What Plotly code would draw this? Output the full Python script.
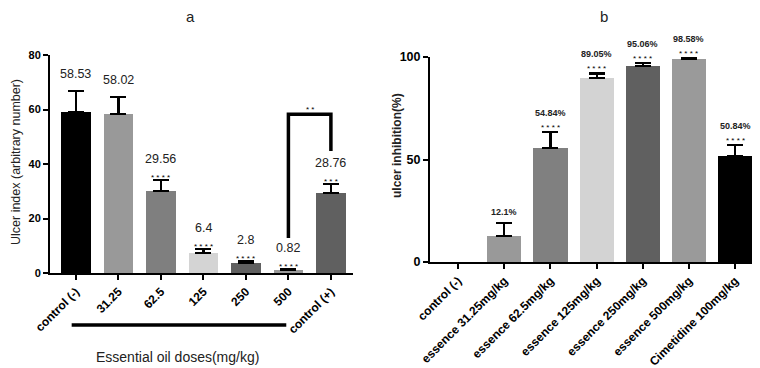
import plotly.graph_objects as go

# ---------------- data: panel a ----------------
cats_a = ["control (-)", "31.25", "62.5", "125", "250", "500", "control (+)"]
vals_a = [59.0, 58.4, 30.1, 7.3, 3.7, 1.1, 29.4]
errtop_a = [66.8, 64.6, 34.1, 8.8, 4.4, 1.6, 32.6]
labels_a = ["58.53", "58.02", "29.56", "6.4", "2.8", "0.82", "28.76"]
stars_a = ["", "", "****", "****", "****", "****", "***"]
colors_a = ["#000000", "#999999", "#7f7f7f", "#d4d4d4", "#606060", "#9a9a9a", "#606060"]
bracket_x = ["500", "500", "control (+)", "control (+)"]
bracket_y = [12.8, 58.3, 58.3, 44.8]
bracket_label = "**"

# ---------------- data: panel b ----------------
cats_b = ["control (-)", "essence 31.25mg/kg", "essence 62.5mg/kg", "essence 125mg/kg",
          "essence 250mg/kg", "essence 500mg/kg", "Cimetidine 100mg/kg"]
vals_b = [0.0, 12.7, 55.6, 89.8, 95.6, 99.0, 51.7]
errtop_b = [None, 19.0, 63.4, 92.0, 97.0, 99.3, 57.0]
labels_b = ["", "12.1%", "54.84%", "89.05%", "95.06%", "98.58%", "50.84%"]
stars_b = ["", "", "****", "****", "****", "****", "****"]
colors_b = ["#000000", "#999999", "#808080", "#d3d3d3", "#606060", "#9a9a9a", "#000000"]

# page has an 8px body margin; figure is sized so that it fills the 760x368 window
OFF = 8
W, H = 760 - OFF, 368 - OFF
def px(x):
    return (x - OFF) / W
def py(y):
    return 1 - (y - OFF) / H

FONT = "Liberation Sans, Arial, sans-serif"

def up_err(tops, vals):
    return [None if t is None else t - v for t, v in zip(tops, vals)]

fig = go.Figure()

fig.add_trace(go.Bar(
    x=cats_a, y=vals_a, marker=dict(color=colors_a, line=dict(width=0)), width=0.7,
    error_y=dict(type="data", symmetric=False, array=up_err(errtop_a, vals_a),
                 arrayminus=[0] * len(vals_a), color="black", thickness=2.2, width=8),
    xaxis="x", yaxis="y", showlegend=False, hoverinfo="skip"))

fig.add_trace(go.Scatter(
    x=bracket_x, y=bracket_y, mode="lines", line=dict(color="black", width=3.5),
    xaxis="x", yaxis="y", showlegend=False, cliponaxis=False, hoverinfo="skip"))

# a zero-height bar with no error bar draws nothing in the reference
fig.add_trace(go.Bar(
    x=cats_b, y=[v if v else None for v in vals_b],
    marker=dict(color=colors_b, line=dict(width=0)), width=0.74,
    error_y=dict(type="data", symmetric=False, array=up_err(errtop_b, vals_b),
                 arrayminus=[None if t is None else 0 for t in errtop_b],
                 color="black", thickness=2.2, width=8),
    xaxis="x2", yaxis="y2", showlegend=False, hoverinfo="skip"))

ann = []
def spaced(s):
    return " ".join(list(s)) if set(s) == {"*"} else s

for i, (c, t, lab, st) in enumerate(zip(cats_a, errtop_a, labels_a, stars_a)):
    if st:
        ann.append(dict(x=i, y=t, xref="x", yref="y", text=spaced(st), showarrow=False,
                        yanchor="bottom", yshift=-4, font=dict(family=FONT, size=8, color="black")))
    ann.append(dict(x=i, y=t, xref="x", yref="y", text=lab, showarrow=False,
                    yanchor="bottom", yshift=12 if st else 8,
                    font=dict(family=FONT, size=12.5, color="#222")))
ann.append(dict(x=5.5, y=bracket_y[1], xref="x", yref="y", text=spaced(bracket_label),
                showarrow=False, yanchor="bottom", yshift=-2,
                font=dict(family=FONT, size=8, color="black")))

for i, (c, t, lab, st) in enumerate(zip(cats_b, errtop_b, labels_b, stars_b)):
    if t is None:
        continue
    if st:
        ann.append(dict(x=i, y=t, xref="x2", yref="y2", text=spaced(st), showarrow=False,
                        yanchor="bottom", yshift=-2, font=dict(family=FONT, size=8, color="black")))
    if lab:
        ann.append(dict(x=i, y=t, xref="x2", yref="y2", text="<b>" + lab + "</b>", showarrow=False,
                        yanchor="bottom", yshift=12 if st else 4,
                        font=dict(family=FONT, size=9, color="#222")))

def pann(x, y, text, size, angle=0):
    return dict(x=px(x), y=py(y), xref="paper", yref="paper", text=text, showarrow=False,
                xanchor="center", yanchor="middle", textangle=angle,
                font=dict(family=FONT, size=size, color="#222"))

ann += [
    pann(190, 16, "a", 15),
    pann(604, 16, "b", 15),
    pann(16, 162, "Ulcer index (arbitrary number)", 12.5, -90),
    pann(397, 146, "<b>ulcer inhibition(%)</b>", 12, -90),
    pann(177, 357, "Essential oil doses(mg/kg)", 14),
]

shapes = [dict(type="line", xref="x", yref="paper", x0=-0.1, x1=4.95,
               y0=py(325), y1=py(325), line=dict(color="black", width=3.5))]

axis_common = dict(showline=True, linecolor="black", linewidth=2, ticks="outside",
                   ticklen=5, tickwidth=2, tickcolor="black", showgrid=False, zeroline=False,
                   automargin=False)

fig.update_layout(
    width=W, height=H, margin=dict(l=0, r=0, t=0, b=0, autoexpand=False),
    plot_bgcolor="white", paper_bgcolor="white",
    xaxis=dict(domain=[px(50), px(353)], range=[-0.61, 6.52], anchor="y", tickangle=-45,
               tickfont=dict(family=FONT, size=12, color="black", weight="bold"), **axis_common),
    yaxis=dict(domain=[py(273), py(55)], range=[0, 80], tickvals=[0, 20, 40, 60, 80],
               anchor="x", tickfont=dict(family=FONT, size=11, color="black", weight="bold"),
               **axis_common),
    xaxis2=dict(domain=[px(430), 1.0], range=[-0.61, 6.54], anchor="y2", tickangle=-45,
                tickfont=dict(family=FONT, size=12, color="black", weight="bold"), **axis_common),
    yaxis2=dict(domain=[py(262), py(57)], range=[0, 100], tickvals=[0, 50, 100],
                anchor="x2", tickfont=dict(family=FONT, size=12.5, color="black", weight="bold"),
                **axis_common),
    annotations=ann, shapes=shapes, bargap=0,
)

fig.write_html("out.html")
